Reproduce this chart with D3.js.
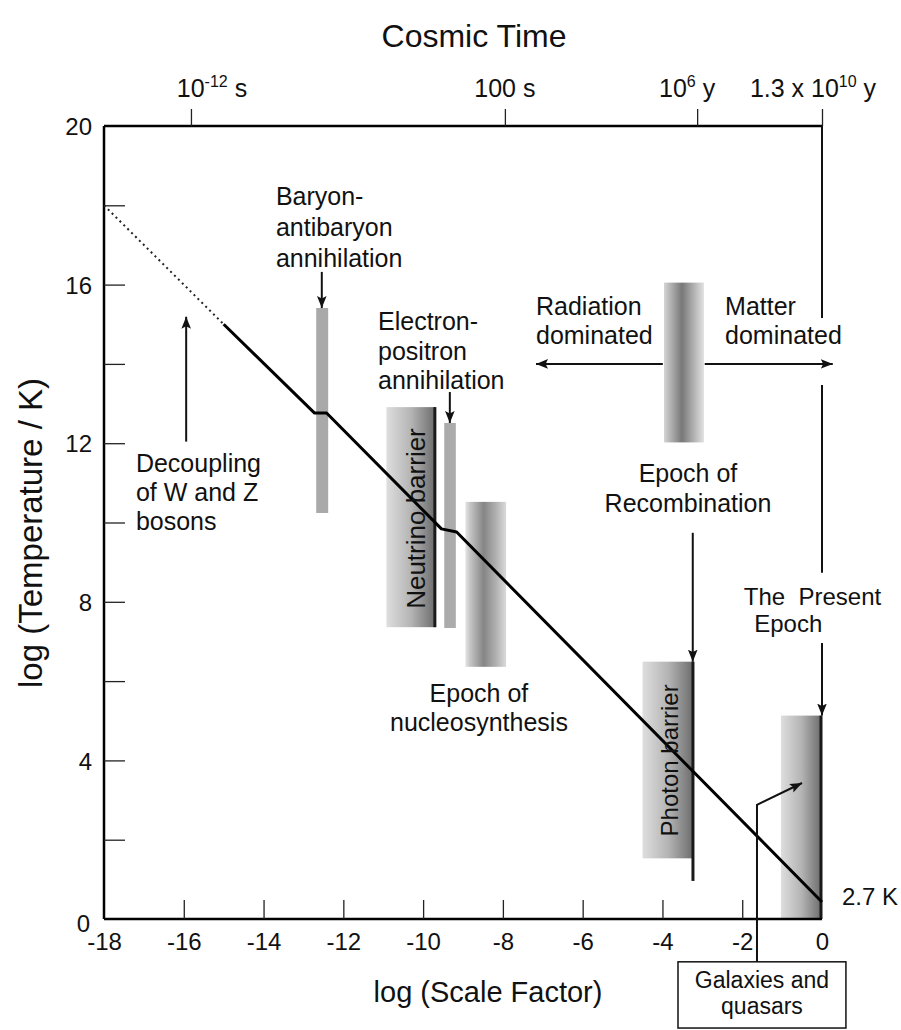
<!DOCTYPE html>
<html><head><meta charset="utf-8">
<script src="https://cdn.jsdelivr.net/npm/d3@7"></script>
<style>
body{margin:0;background:#fff;}
svg{display:block;font-family:"Liberation Sans",Arial,Helvetica,sans-serif;}
</style></head><body>
<svg id="c" width="901" height="1030"></svg>
<script>
// ---------- data ----------
const xTickValues = [-18,-16,-14,-12,-10,-8,-6,-4,-2,0];
const yTickValues = [0,2,4,6,8,10,12,14,16,18,20];
const yLabelValues = [0,4,8,12,16,20];
const timeTickPos = [-15.82,-7.95,-3.13,0];
const timeTickBase = ["10","100 s","10","1.3 x 10"];
const timeTickSup = ["-12","","6","10"];
const timeTickUnit = [" s",""," y"," y"];

const extrapolated = [[-18,18],[-15,15]];
const temperature = [[-15,15],[-12.72,12.76],[-12.42,12.76],[-9.54,9.84],[-9.16,9.76],[0,0.43]];

const barNames = ["baryon","neutrino","electron","nucleo","recomb","photon","present"];
const barX0 = [-12.68,-10.92,-9.47,-8.94,-3.96,-4.50,-1.03];
const barX1 = [-12.38,-9.68,-9.18,-7.92,-2.96,-3.21,0];
const barTop = [15.41,12.91,12.51,10.52,16.05,6.49,5.13];
const barBot = [10.24,7.36,7.34,6.36,12.02,1.53,0];

const edgeX = [-9.68,-3.21,0];
const edgeTop = [12.91,6.49,5.13];
const edgeBot = [7.36,0.96,0];

// arrows [x1,y1,x2,y2] (tip at x2,y2)
const arrows = [
  [-15.94,12.04,-15.94,15.19],
  [-12.54,16.32,-12.54,15.41],
  [-9.33,13.29,-9.33,12.51],
  [-3.99,14.0,-7.17,14.0],
  [-2.94,14.0,0.27,14.0],
  [-3.24,9.74,-3.24,6.49],
  [0,6.96,0,5.13]
];
// plain segments
const segments = [
  [0,20,0,15.16],
  [0,13.47,0,8.73]
];
const galaxyPath = [[-1.63,-1.08],[-1.63,2.88],[-0.5,3.43]];
const galaxyBox = [-3.61,0.6,-1.08,-2.75];

const notes = [
  {lines:["Baryon-","antibaryon","annihilation"], x:-13.69, y:18.01, anchor:"start", gap:31},
  {lines:["Electron-","positron","annihilation"], x:-11.13, y:14.85, anchor:"start", gap:29.5},
  {lines:["Decoupling","of W and Z","bosons"], x:-17.2, y:11.28, anchor:"start", gap:29},
  {lines:["Radiation","dominated"], x:-7.17, y:15.23, anchor:"start", gap:28.5},
  {lines:["Matter","dominated"], x:-2.43, y:15.23, anchor:"start", gap:28.5},
  {lines:["Epoch of","Recombination"], x:-3.36, y:11.02, anchor:"middle", gap:29.5},
  {lines:["Epoch of","nucleosynthesis"], x:-8.6, y:5.47, anchor:"middle", gap:28.5}
];

// ---------- scales ----------
const svg = d3.select("#c");
const x = d3.scaleLinear().domain([-18,0]).range([104,822]);
const y = d3.scaleLinear().domain([0,20]).range([919,126]);
const font = 25;
const timeLabelShift = [21,0,-10,-9];

// gradients
const defs = svg.append("defs");
function grad(id, stops){
  const g = defs.append("linearGradient").attr("id",id).attr("x1","0%").attr("x2","100%").attr("y1","0%").attr("y2","0%");
  stops.forEach(s=>g.append("stop").attr("offset",s[0]).attr("stop-color",s[1]));
}
grad("gRamp",[["0%","#dedede"],["50%","#b4b4b4"],["100%","#6a6a6a"]]);
grad("gCyl",[["0%","#e4e4e4"],["12%","#c4c4c4"],["45%","#858585"],["75%","#b0b0b0"],["100%","#dadada"]]);
grad("gCyl2",[["0%","#d4d4d4"],["45%","#787878"],["100%","#e2e2e2"]]);
const fills = {baryon:"#a9a9a9",electron:"#ababab",neutrino:"url(#gRamp)",photon:"url(#gRamp)",present:"url(#gRamp)",nucleo:"url(#gCyl)",recomb:"url(#gCyl2)"};

defs.append("marker").attr("id","ah").attr("viewBox","0 0 10 10").attr("refX",10).attr("refY",5)
  .attr("markerWidth",12).attr("markerHeight",12).attr("markerUnits","userSpaceOnUse").attr("orient","auto")
  .append("path").attr("d","M0,1 L10,5 L0,9 L2,5 Z").attr("fill","#111");

// ---------- bars ----------
svg.append("g").selectAll("rect").data(barNames).join("rect")
  .attr("x",(d,i)=>x(barX0[i])).attr("width",(d,i)=>x(barX1[i])-x(barX0[i]))
  .attr("y",(d,i)=>y(barTop[i])).attr("height",(d,i)=>y(barBot[i])-y(barTop[i]))
  .attr("fill",d=>fills[d]);

svg.append("g").selectAll("line").data(edgeX).join("line")
  .attr("x1",d=>x(d)-1).attr("x2",d=>x(d)-1)
  .attr("y1",(d,i)=>y(edgeTop[i])).attr("y2",(d,i)=>y(edgeBot[i]))
  .attr("stroke","#1a1a1a").attr("stroke-width",3);

// ---------- axes ----------
const axisG = svg.append("g");
axisG.append("line").attr("x1",x(-18)).attr("x2",x(0)).attr("y1",y(20)).attr("y2",y(20)).attr("stroke","#000").attr("stroke-width",2.5);
axisG.append("line").attr("x1",x(-18)).attr("x2",x(0)).attr("y1",y(0)).attr("y2",y(0)).attr("stroke","#000").attr("stroke-width",2.5);
axisG.append("line").attr("x1",x(-18)).attr("x2",x(-18)).attr("y1",y(20)).attr("y2",y(0)).attr("stroke","#000").attr("stroke-width",2.5);

// bottom axis
const xAxis = d3.axisBottom(x).tickValues(xTickValues).tickSizeInner(-19).tickSizeOuter(0).tickPadding(0).tickFormat(d=>String(d));
const gx = svg.append("g").attr("transform",`translate(0,${y(0)})`).call(xAxis);
gx.select(".domain").remove();
gx.selectAll(".tick line").attr("stroke","#222").attr("stroke-width",1.3)
  .attr("display",d=>(d===-18||d===0)?"none":null);
gx.selectAll(".tick text").attr("font-size",24).attr("fill","#111").attr("y",31).attr("dy",0)
  .attr("font-family","'Liberation Sans',Arial,sans-serif");

// left axis
const yAxis = d3.axisLeft(y).tickValues(yTickValues).tickSizeInner(-21).tickSizeOuter(0).tickPadding(0)
  .tickFormat(d=>yLabelValues.includes(d)?String(d):"");
const gy = svg.append("g").attr("transform",`translate(${x(-18)},0)`).call(yAxis);
gy.select(".domain").remove();
gy.selectAll(".tick line").attr("stroke","#222").attr("stroke-width",1.3)
  .attr("display",d=>(d===0||d===20)?"none":null);
gy.selectAll(".tick text").attr("font-size",24).attr("fill","#111").attr("x",-12).attr("dy","0.36em")
  .attr("font-family","'Liberation Sans',Arial,sans-serif");
gy.selectAll(".tick text").filter(d=>d===0).attr("x",-14).attr("dy","0.5em");

// top axis (cosmic time)
const xTop = d3.axisTop(x).tickValues(timeTickPos).tickSizeInner(17).tickSizeOuter(0).tickFormat("");
const gt = svg.append("g").attr("transform",`translate(0,${y(20)})`).call(xTop);
gt.select(".domain").remove();
gt.selectAll(".tick line").attr("stroke","#222").attr("stroke-width",1.3);
const tl = svg.append("g").selectAll("text").data(timeTickPos).join("text")
  .attr("x",(d,i)=>x(d)+timeLabelShift[i]).attr("y",y(20)-29).attr("text-anchor","middle").attr("font-size",25).attr("fill","#111");
tl.append("tspan").text((d,i)=>timeTickBase[i]);
tl.append("tspan").attr("font-size",16).attr("dy",-10).text((d,i)=>timeTickSup[i]);
tl.append("tspan").attr("dy",10).text((d,i)=>timeTickUnit[i]).style("white-space","pre");

// titles
svg.append("text").attr("x",474).attr("y",47).attr("text-anchor","middle").attr("font-size",32).attr("fill","#111").text("Cosmic Time");
svg.append("text").attr("x",488).attr("y",1002).attr("text-anchor","middle").attr("font-size",29).attr("fill","#111").text("log (Scale Factor)");
svg.append("text").attr("transform",`translate(42,533) rotate(-90)`).attr("text-anchor","middle").attr("font-size",33).attr("fill","#111").text("log (Temperature / K)");

// ---------- temperature line ----------
const line = d3.line().x(d=>x(d[0])).y(d=>y(d[1]));
svg.append("path").attr("d",line(extrapolated)).attr("fill","none").attr("stroke","#222").attr("stroke-width",2).attr("stroke-dasharray","2,3.5");
svg.append("path").attr("d",line(temperature)).attr("fill","none").attr("stroke","#000").attr("stroke-width",3).attr("stroke-linejoin","round");

// ---------- arrows ----------
svg.append("g").selectAll("line").data(arrows).join("line")
  .attr("x1",d=>x(d[0])).attr("y1",d=>y(d[1])).attr("x2",d=>x(d[2])).attr("y2",d=>y(d[3]))
  .attr("stroke","#111").attr("stroke-width",2).attr("marker-end","url(#ah)");
svg.append("g").selectAll("line").data(segments).join("line")
  .attr("x1",d=>x(d[0])).attr("y1",d=>y(d[1])).attr("x2",d=>x(d[2])).attr("y2",d=>y(d[3]))
  .attr("stroke","#111").attr("stroke-width",2);
svg.append("path").attr("d",line(galaxyPath)).attr("fill","none").attr("stroke","#111").attr("stroke-width",2).attr("marker-end","url(#ah)");

// galaxies box
svg.append("rect").attr("x",x(galaxyBox[0])).attr("y",y(galaxyBox[2]))
  .attr("width",x(galaxyBox[1])-x(galaxyBox[0])).attr("height",y(galaxyBox[3])-y(galaxyBox[2]))
  .attr("fill","#fff").attr("stroke","#111").attr("stroke-width",1.5);
const gb = svg.append("text").attr("text-anchor","middle").attr("font-size",23).attr("fill","#111");
gb.append("tspan").attr("x",x((galaxyBox[0]+galaxyBox[1])/2)).attr("y",y(-1.75)).text("Galaxies and");
gb.append("tspan").attr("x",x((galaxyBox[0]+galaxyBox[1])/2)).attr("y",y(-1.75)+26).text("quasars");

// ---------- annotations ----------
notes.forEach(n=>{
  const t = svg.append("text").attr("text-anchor",n.anchor).attr("font-size",font).attr("fill","#111");
  n.lines.forEach((l,i)=>t.append("tspan").attr("x",x(n.x)).attr("y",y(n.y)+i*n.gap).text(l));
});
// present epoch
const pe = svg.append("text").attr("font-size",24).attr("fill","#111").style("white-space","pre");
pe.append("tspan").attr("x",x(-1.96)).attr("y",y(7.92)).text("The  Present");
pe.append("tspan").attr("x",x(-1.7)).attr("y",y(7.92)+27).text("Epoch");
svg.append("text").attr("x",x(0.5)).attr("y",y(0.35)).attr("font-size",24).attr("fill","#111").text("2.7 K");

// rotated labels
svg.append("text").attr("transform",`translate(${x(-9.95)},${y(10.1)}) rotate(-90)`).attr("text-anchor","middle").attr("font-size",26).attr("fill","#111").text("Neutrino barrier");
svg.append("text").attr("transform",`translate(${x(-3.6)},${y(4.0)}) rotate(-90)`).attr("text-anchor","middle").attr("font-size",24).attr("fill","#111").text("Photon barrier");
</script></body></html>
